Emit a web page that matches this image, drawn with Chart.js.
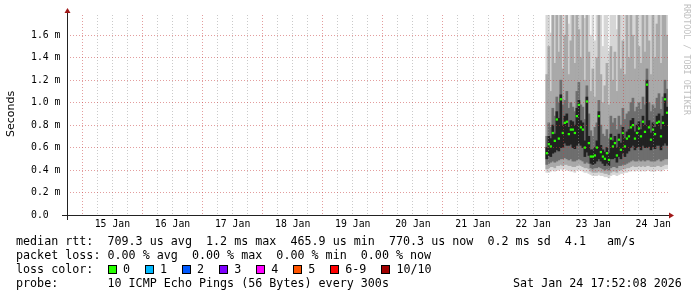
<!DOCTYPE html>
<html lang="en">
<head>
    <meta charset="UTF-8">
    <title>SmokePing median rtt</title>
    <script src="https://cdn.jsdelivr.net/npm/chart.js@4.4.0/dist/chart.umd.min.js"></script>
    <style>
        body { margin: 0; background: #fff; }
        #wrap { position: relative; width: 697px; height: 297px; overflow: hidden; }
        #chart { position: absolute; left: 0; top: 0; }
        .line { position: absolute; left: 16px; font: 11.7px "DejaVu Sans Mono", monospace; line-height: 14px; white-space: pre; color: #000; }
        .box { position: absolute; width: 9px; height: 9px; box-sizing: border-box; border: 1px solid #000; }
    </style>
</head>
<body>
<div id="wrap">
    <canvas id="chart" width="697" height="297"></canvas>
    <div class="line" style="top:234px">median rtt:  709.3 us avg  1.2 ms max  465.9 us min  770.3 us now  0.2 ms sd  4.1   am/s</div>
    <div class="line" style="top:248px">packet loss: 0.00 % avg  0.00 % max  0.00 % min  0.00 % now</div>
    <div class="line" style="top:262px">loss color:</div>
    <div class="line" style="top:276px">probe:       10 ICMP Echo Pings (56 Bytes) every 300s</div>
    <div class="line" style="top:276px;left:513px">Sat Jan 24 17:52:08 2026</div>
</div>

<script>
    // time axis is in hours since 14 Jan 00:00, window ends Sat Jan 24 17:52
    const windowStart = 17.87;
    const windowEnd = 257.87;
    const firstSample = 209.47;   // 22 Jan ~17:28
    const sampleStep = 0.8;       // one value every 48 min

    // median rtt (ms)
    const median = [.55,.63,.61,.73,.66,.85,.68,1.03,.73,.82, .83,.72,.76,.76,.73,.88,.98,.78,.76,.60,
                    1.01,.64,.52,.52,.53,.60,.88,.56,.52,.50, .55,.49,.68,.61,.64,.53,.67,.58,.73,.61,
                    .68,.70,.78,.80,.68,.73,.77,.70,.83,.74, 1.16,.78,.67,.76,.72,.82,.83,.70,.82,1.03, .91];

    // smoke bands (ms), innermost first
    const coreLo = [.50,.53,.52,.55,.56,.58,.57,.60,.60,.64, .62,.62,.63,.60,.59,.62,.64,.62,.60,.52,
                    .56,.53,.46,.45,.46,.48,.50,.48,.46,.44, .46,.44,.50,.50,.51,.47,.52,.50,.55,.52,
                    .55,.57,.60,.62,.58,.60,.61,.58,.62,.60, .60,.61,.58,.60,.59,.62,.62,.58,.62,.64, .62];
    const coreHi = [.60,.70,.68,.80,.72,.92,.86,1.07,.80,.88, .90,.78,.84,.83,.80,.95,1.02,.84,.82,.66,
                    1.05,.70,.58,.58,.60,.66,.92,.62,.58,.56, .60,.55,.72,.66,.70,.60,.72,.64,.78,.68,
                    .74,.76,.84,.86,.74,.80,.83,.76,.88,.80, 1.20,.84,.73,.82,.78,.88,.90,.76,.88,1.08, .96];
    const darkLo = [.45,.46,.47,.48,.47,.48,.49,.50,.50,.51, .50,.49,.50,.48,.48,.49,.50,.49,.48,.46,
                    .47,.46,.42,.41,.42,.42,.43,.42,.41,.40, .41,.40,.42,.43,.43,.42,.44,.44,.45,.45,
                    .46,.47,.48,.49,.48,.48,.49,.48,.49,.48, .49,.49,.48,.48,.48,.49,.50,.48,.49,.50, .50];
    const darkHi = [.70,.82,.78,.95,.88,1.05,1.00,1.20,.98,1.02, 1.10,.95,1.00,.96,.92,1.10,1.18,.98,.96,.85,
                    1.15,.90,.75,.70,.78,.82,1.02,.80,.72,.70, .76,.68,.88,.82,.86,.76,.88,.80,.95,.85,
                    .90,.92,1.00,1.04,.92,.96,1.00,.94,1.05,.98, 1.30,1.00,.92,.98,.95,1.04,1.08,.94,1.05,1.20, 1.12];
    const midLo = [.41,.42,.43,.43,.42,.44,.44,.45,.44,.45, .45,.44,.44,.43,.43,.44,.45,.44,.43,.42,
                   .42,.41,.39,.38,.38,.38,.39,.38,.38,.37, .37,.36,.38,.39,.39,.38,.40,.40,.41,.41,
                   .42,.42,.43,.44,.43,.43,.44,.43,.44,.43, .44,.44,.43,.43,.43,.44,.44,.43,.44,.45, .45];
    const midHi = [1.25,1.50,1.10,1.80,1.35,1.80,1.45,1.80,1.30,1.60, 1.80,1.25,1.55,1.80,1.35,1.80,1.65,1.40,1.80,1.20,
                   1.80,1.45,1.10,1.30,1.05,1.40,1.80,1.25,1.00,1.15, 1.35,.98,1.50,1.20,1.45,1.10,1.80,1.30,1.55,1.25,
                   1.80,1.40,1.80,1.60,1.30,1.80,1.50,1.35,1.80,1.45, 1.80,1.55,1.25,1.80,1.40,1.70,1.80,1.35,1.80,1.80, 1.60];
    const lightLo = [.38,.38,.39,.40,.39,.40,.40,.41,.40,.41, .40,.40,.39,.39,.38,.40,.40,.40,.39,.38,
                     .38,.37,.36,.35,.35,.35,.36,.35,.35,.34, .34,.33,.35,.36,.36,.35,.36,.37,.37,.38,
                     .38,.39,.39,.40,.39,.40,.40,.39,.40,.39, .40,.40,.39,.39,.39,.40,.40,.39,.40,.41, .41];
    const lightHi = [1.80,1.80,1.62,1.80,1.80,1.80,1.80,1.80,1.80,1.80, 1.80,1.70,1.80,1.80,1.80,1.80,1.80,1.80,1.80,1.75,
                     1.80,1.80,1.60,1.80,1.55,1.80,1.80,1.80,1.50,1.80, 1.80,1.45,1.80,1.80,1.80,1.65,1.80,1.80,1.80,1.80,
                     1.80,1.80,1.80,1.80,1.80,1.80,1.80,1.80,1.80,1.80, 1.80,1.80,1.80,1.80,1.80,1.80,1.80,1.80,1.80,1.80, 1.80];

    const yMax = 1.78;
    const lossLabels = ['0', '1', '2', '3', '4', '5', '6-9', '10/10'];
    const lossColors = ['#26ff00', '#00b8ff', '#0059ff', '#7e00ff', '#ff00ff', '#ff5500', '#ff0000', '#a10000'];

    // legend colour boxes
    const wrap = document.getElementById('wrap');
    let boxX = 108;
    lossLabels.forEach((lab, i) => {
        const b = document.createElement('div');
        b.className = 'box';
        b.style.cssText = `left:${boxX}px;top:265px;background:${lossColors[i]}`;
        wrap.appendChild(b);
        const t = document.createElement('div');
        t.className = 'line';
        t.style.cssText = `left:${boxX + 15}px;top:262px`;
        t.textContent = lab;
        wrap.appendChild(t);
        boxX += 30 + lab.length * 7.05;
    });

    const hours = median.map((_, i) => firstSample + i * sampleStep);
    const band = (lo, hi) => lo.map((v, i) => ({ x: hours[i], y: [v, hi[i]] }));

    const MAJOR = 'rgba(200,60,60,0.5)';
    const MINOR = 'rgba(150,150,150,0.5)';

    const decorations = {
        id: 'decorations',
        afterDraw(chart) {
            const { ctx, chartArea: a } = chart;
            ctx.save();
            ctx.strokeStyle = '#222';
            ctx.lineWidth = 1;
            ctx.beginPath();
            ctx.moveTo(a.left - 5, a.bottom + 0.5);
            ctx.lineTo(a.right + 2, a.bottom + 0.5);
            ctx.moveTo(a.left + 0.5, a.bottom + 5);
            ctx.lineTo(a.left + 0.5, a.top - 3);
            ctx.stroke();

            ctx.fillStyle = '#a01818';
            ctx.beginPath();
            ctx.moveTo(a.right + 6, a.bottom + 0.5);
            ctx.lineTo(a.right + 1, a.bottom - 2.5);
            ctx.lineTo(a.right + 1, a.bottom + 3.5);
            ctx.fill();
            ctx.beginPath();
            ctx.moveTo(a.left + 0.5, a.top - 7);
            ctx.lineTo(a.left - 2.5, a.top - 2);
            ctx.lineTo(a.left + 3.5, a.top - 2);
            ctx.fill();

            ctx.fillStyle = '#000';
            ctx.font = '11px "DejaVu Sans"';
            ctx.textAlign = 'center';
            ctx.textBaseline = 'middle';
            ctx.translate(11, 114);
            ctx.rotate(-Math.PI / 2);
            ctx.fillText('Seconds', 0, 0);
            ctx.restore();

            ctx.save();
            ctx.fillStyle = '#c0c0c0';
            ctx.font = '8.4px "DejaVu Sans Mono"';
            ctx.textAlign = 'left';
            ctx.textBaseline = 'middle';
            ctx.translate(686.5, 4);
            ctx.rotate(Math.PI / 2);
            ctx.fillText('RRDTOOL / TOBI OETIKER', 0, 0);
            ctx.restore();
        }
    };

    const barSet = (data, color, order) => ({
        type: 'bar', data, backgroundColor: color, borderWidth: 0,
        barPercentage: 1, categoryPercentage: 1, grouped: false, order
    });

    new Chart(document.getElementById('chart'), {
        type: 'bar',
        data: {
            datasets: [
                barSet(band(lightLo, lightHi), '#d6d6d6', 5),
                barSet(band(midLo, midHi), '#a9a9a9', 4),
                barSet(band(darkLo, darkHi), '#6e6e6e', 3),
                barSet(band(coreLo, coreHi), '#222222', 2),
                {
                    type: 'scatter', order: 1,
                    data: median.map((v, i) => ({ x: hours[i], y: v })),
                    pointStyle: 'rect', pointRadius: 1.6, pointBorderWidth: 0,
                    backgroundColor: lossColors[0], borderColor: lossColors[0]
                }
            ]
        },
        options: {
            responsive: false,
            animation: false,
            devicePixelRatio: 1,
            layout: { padding: { left: 31, right: 29, top: 15, bottom: 67 } },
            plugins: { legend: { display: false }, tooltip: { enabled: false } },
            scales: {
                x: {
                    type: 'linear', min: windowStart, max: windowEnd, bounds: 'data',
                    offset: false,
                    afterBuildTicks: s => {
                        const t = [];
                        for (let h = 18; h <= s.max; h += 6) t.push({ value: h });
                        s.ticks = t;
                    },
                    afterFit: s => { s.height = 15; },
                    grid: {
                        offset: false, drawTicks: false, z: 1, lineWidth: 1,
                        color: c => (c.tick && c.tick.value % 24 === 0) ? MAJOR : MINOR
                    },
                    border: { display: false, dash: [1, 2] },
                    ticks: {
                        autoSkip: false, maxRotation: 0, padding: 4, color: '#000',
                        font: { family: 'DejaVu Sans Mono', size: 9.8 },
                        callback: v => v % 24 === 12 ? (14 + Math.floor(v / 24)) + ' Jan' : ''
                    }
                },
                y: {
                    type: 'linear', min: 0, max: yMax, bounds: 'data',
                    afterBuildTicks: s => {
                        const t = [];
                        for (let k = 0; k <= 17; k++) t.push({ value: k / 10 });
                        s.ticks = t;
                    },
                    afterFit: s => { s.width = 36; },
                    grid: {
                        drawTicks: false, z: 1, lineWidth: 1,
                        color: c => (c.tick && Math.round(c.tick.value * 10) % 2 === 0) ? MAJOR : MINOR
                    },
                    border: { display: false, dash: [1, 2] },
                    ticks: {
                        crossAlign: 'far', color: '#000',
                        font: { family: 'DejaVu Sans Mono', size: 9.8 },
                        callback: v => {
                            const k = Math.round(v * 10);
                            if (k % 2) return '';
                            return k === 0 ? '0.0' : (k / 10).toFixed(1) + ' m';
                        }
                    }
                }
            }
        },
        plugins: [decorations]
    });
</script>
</body>
</html>
